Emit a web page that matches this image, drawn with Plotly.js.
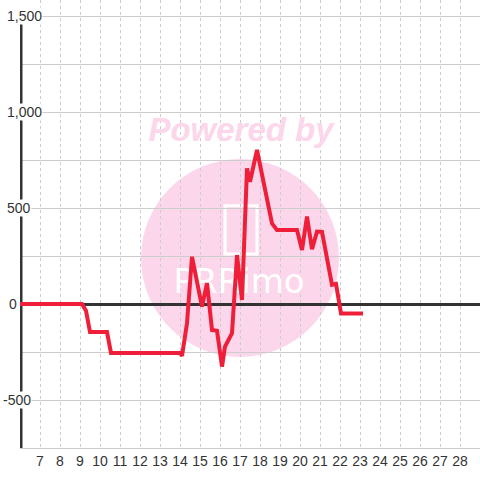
<!DOCTYPE html>
<html>
<head>
<meta charset="utf-8">
<script src="https://cdn.plot.ly/plotly-3.0.1.min.js"></script>
<style>
html,body{margin:0;padding:0;background:#fff;}
#chart{width:480px;height:480px;}
</style>
</head>
<body>
<div id="chart"></div>
<script>
// ---- data ----
const seriesX = [6, 9.1, 9.3, 9.5, 10.35, 10.55, 14.0, 14.1, 14.35, 14.6, 15.1, 15.35, 15.6, 15.85, 16.1, 16.25, 16.6, 16.85, 17.1, 17.35, 17.5, 17.85, 18.6, 18.85, 19.85, 20.1, 20.35, 20.6, 20.85, 21.1, 21.6, 21.8, 22.05, 23.15];
const seriesY = [0, 0, -35, -146, -146, -255, -255, -270, -100, 246, -14, 109, -135, -139, -326, -222, -152, 255, 21, 706, 637, 802, 420, 385, 385, 281, 455, 285, 377, 375, 100, 105, -49, -49];
const xTicks = [7, 8, 9, 10, 11, 12, 13, 14, 15, 16, 17, 18, 19, 20, 21, 22, 23, 24, 25, 26, 27, 28];
const yLabelVals = [1500, 1000, 500, 0, -500];
const yLabelText = ['1,500', '1,000', '500', '0', '-500'];
const watermarkTop = 'Powered by';
const watermarkLogo = 'PRRimo';

const labelFont = {family: 'Liberation Sans, Arial, sans-serif', size: 14, color: '#333'};

const traces = [
  {
    x: [17.05], y: [890], mode: 'text', text: [watermarkTop],
    textfont: {family: 'Liberation Sans, Arial, sans-serif', size: 33, color: '#fcd6ea', weight: 'bold', style: 'italic'},
    hoverinfo: 'skip', showlegend: false, cliponaxis: false
  },
  {
    x: [16.95], y: [99], mode: 'text', text: [watermarkLogo],
    textfont: {family: 'DejaVu Sans, sans-serif', size: 34, color: '#ffffff'},
    hoverinfo: 'skip', showlegend: false, cliponaxis: false
  },
  {
    x: seriesX, y: seriesY, mode: 'lines', type: 'scatter',
    line: {color: '#ef1f39', width: 4},
    hoverinfo: 'skip', showlegend: false
  }
];

const annotations = yLabelVals.map((v, i) => ({
  xref: 'paper', yref: 'y', x: 0, y: v, xanchor: 'left', yanchor: 'middle',
  xshift: (yLabelText[i].startsWith('-') ? -18 : (yLabelText[i] === '0' ? -12 : -14)),
  text: yLabelText[i], showarrow: false, font: labelFont,
  bgcolor: '#ffffff', borderpad: 0
}));

const layout = {
  width: 480, height: 480,
  margin: {l: 20, r: 0, t: 0, b: 32, pad: 0},
  paper_bgcolor: '#ffffff',
  plot_bgcolor: 'rgba(0,0,0,0)',
  xaxis: {
    range: [6, 29], tickvals: xTicks, ticktext: xTicks.map(String),
    showgrid: true, gridcolor: '#cccccc', gridwidth: 1, griddash: '3px,3px',
    zeroline: false, ticks: '', tickfont: labelFont,
    showline: true, linecolor: '#cccccc', linewidth: 1, fixedrange: true
  },
  yaxis: {
    range: [-750, 1583.33], dtick: 250, tick0: 0,
    showgrid: true, gridcolor: '#cccccc', gridwidth: 1,
    zeroline: true, zerolinecolor: '#333333', zerolinewidth: 3,
    showticklabels: false, ticks: '', showline: false, fixedrange: true
  },
  shapes: [
    {type: 'circle', xref: 'paper', yref: 'paper', x0: 0.2630, x1: 0.6935, y0: 0.2031, y1: 0.6451,
     fillcolor: '#fcd7ec', line: {width: 0}, layer: 'below'},
    {type: 'rect', xref: 'paper', yref: 'paper', x0: 0.4457, x1: 0.5152, y0: 0.4330, y1: 0.5409,
     fillcolor: 'rgba(0,0,0,0)', line: {color: '#ffffff', width: 3}, layer: 'below'},
    {type: 'line', xref: 'x', yref: 'y', x0: 6.05, x1: 6.05, y0: -750, y1: 1500,
     line: {color: '#333333', width: 3}, layer: 'between'}
  ],
  annotations: annotations,
  showlegend: false
};

Plotly.newPlot('chart', traces, layout, {staticPlot: true, displayModeBar: false});
</script>
</body>
</html>
